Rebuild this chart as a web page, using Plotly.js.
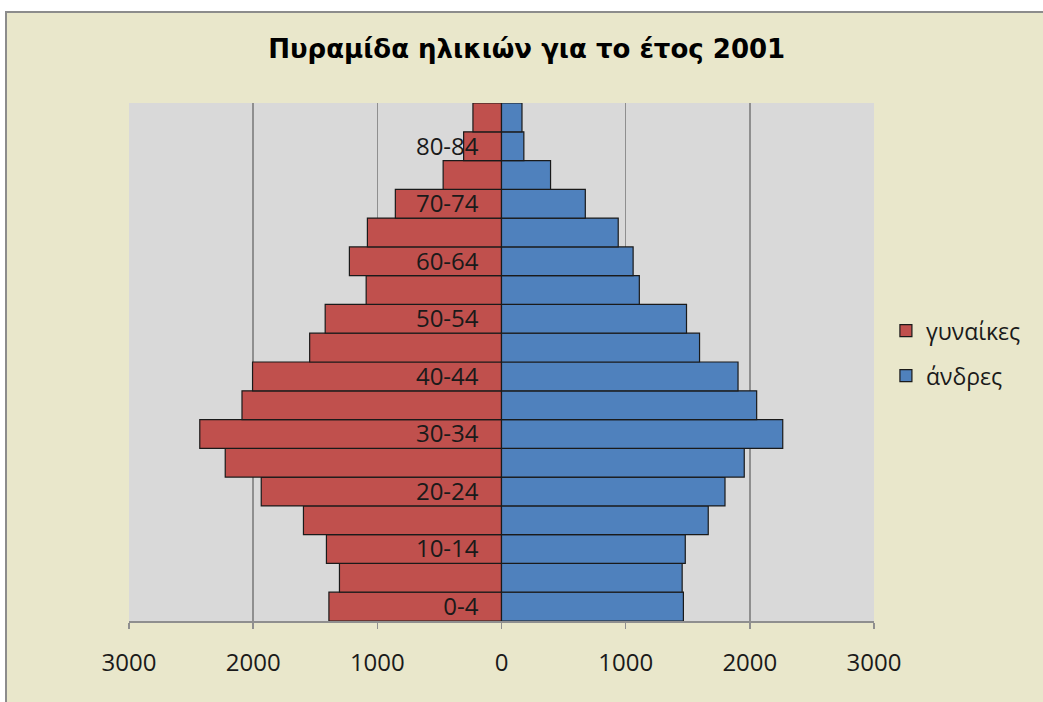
<!DOCTYPE html>
<html>
<head>
<meta charset="utf-8">
<script src="https://cdn.plot.ly/plotly-3.0.1.min.js"></script>
<style>
  html, body { margin: 0; padding: 0; background: #ffffff; }
  #frame { position: absolute; left: 5px; top: 11px; width: 1038px; height: 691px;
           background: #E9E7CB; border-left: 2px solid #8c8c8c; border-top: 2px solid #8c8c8c; box-sizing: border-box; }
  #chart { position: absolute; left: 0; top: 0; width: 1043px; height: 702px; }
</style>
</head>
<body>
<div id="frame"></div>
<div id="chart"></div>
<script>
// Age groups, bottom to top
const ageGroups = ["0-4","5-9","10-14","15-19","20-24","25-29","30-34","35-39","40-44",
                   "45-49","50-54","55-59","60-64","65-69","70-74","75-79","80-84","85+"];
// Women (γυναίκες) per age group
const women = [1390, 1305, 1410, 1595, 1935, 2225, 2430, 2090, 2005,
               1545, 1420, 1090, 1225, 1080, 855, 470, 305, 230];
// Men (άνδρες) per age group
const men = [1465, 1455, 1480, 1665, 1800, 1955, 2265, 2055, 1905,
             1595, 1490, 1110, 1060, 940, 675, 395, 180, 165];
// Axis tick labels
const xTickVals = [-3000, -2000, -1000, 0, 1000, 2000, 3000];
const xTickText = ["3000", "2000", "1000", "0", "1000", "2000", "3000"];
const yTickVals = ageGroups.filter((_, i) => i % 2 === 0 && i < 17);

const womenNeg = women.map(v => -v);

const traces = [
  {
    type: "bar", orientation: "h", name: "γυναίκες",
    y: ageGroups, x: womenNeg, legendgroup: "w",
    marker: { color: "#C0504D", line: { color: "#1a1a1a", width: 1.2 } },
    hoverinfo: "skip"
  },
  {
    type: "bar", orientation: "h", name: "άνδρες",
    y: ageGroups, x: men, legendgroup: "m",
    marker: { color: "#4F81BD", line: { color: "#1a1a1a", width: 1.2 } },
    hoverinfo: "skip"
  }
];

const layout = {
  width: 1043, height: 702,
  margin: { l: 129, r: 169, t: 103, b: 81, pad: 0, autoexpand: false },
  paper_bgcolor: "rgba(0,0,0,0)",
  plot_bgcolor: "#D9D9D9",
  barmode: "overlay",
  bargap: 0,
  showlegend: true,
  title: {
    text: "Πυραμίδα ηλικιών για το έτος 2001",
    font: { family: "DejaVu Sans, sans-serif", size: 26, color: "#000000", weight: "bold" },
    x: 0.505, xref: "container", xanchor: "center",
    y: 1 - 49/702, yref: "container", yanchor: "middle"
  },
  xaxis: {
    range: [-3000, 3000],
    tickvals: xTickVals, ticktext: xTickText,
    showgrid: true, gridcolor: "#8f8f8f", gridwidth: 1.5,
    zeroline: false,
    showline: true, linecolor: "#8f8f8f", linewidth: 1.5,
    ticks: "outside", ticklen: 6, tickcolor: "#8f8f8f", tickwidth: 1.5,
    ticklabelstandoff: 14,
    tickfont: { family: "Open Sans, sans-serif", size: 24, color: "#1a1a1a" },
    fixedrange: true
  },
  yaxis: {
    type: "category",
    categoryorder: "array", categoryarray: ageGroups,
    tickvals: yTickVals,
    anchor: "free", position: 0.4987,
    showgrid: false, zeroline: false, showline: false,
    ticks: "",
    ticklabelstandoff: 22,
    tickfont: { family: "Open Sans, sans-serif", size: 24, color: "#1a1a1a" },
    fixedrange: true
  },
  legend: {
    x: 1.016, xanchor: "left", y: 0.517, yanchor: "middle",
    traceorder: "grouped", tracegroupgap: 12,
    bgcolor: "rgba(0,0,0,0)",
    itemwidth: 30,
    font: { family: "Open Sans, sans-serif", size: 23, color: "#1a1a1a" }
  }
};

Plotly.newPlot("chart", traces, layout, { displayModeBar: false, staticPlot: true });
</script>
</body>
</html>
